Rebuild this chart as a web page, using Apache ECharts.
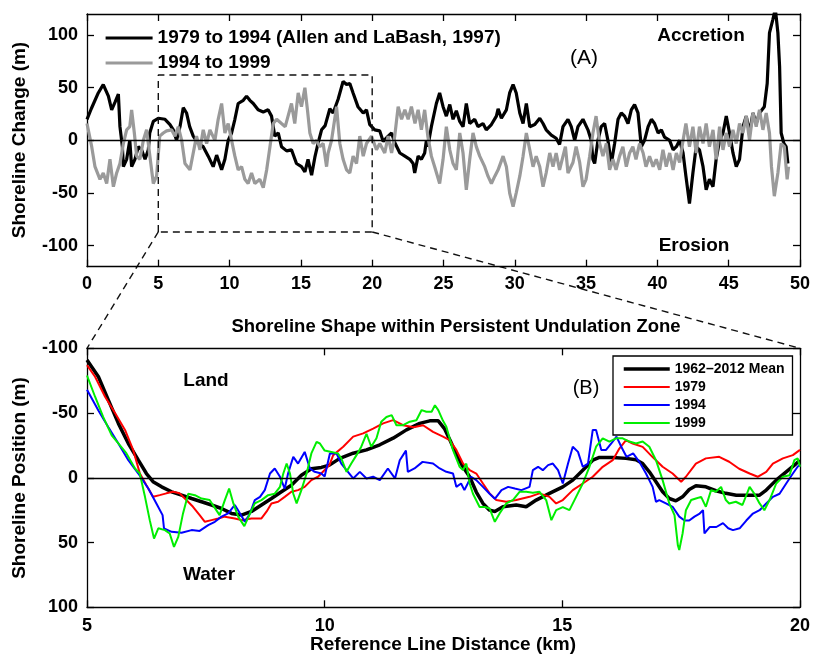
<!DOCTYPE html>
<html>
<head>
<meta charset="utf-8">
<script src="https://cdn.jsdelivr.net/npm/echarts@6/dist/echarts.min.js"></script>
<style>
html,body{margin:0;padding:0;background:#fff}
#chart{width:813px;height:656px}
</style>
</head>
<body>
<div id="chart"></div>
<script>
// ---- (A) shoreline change along the coast, [km, m] ----
const change7994 = [[0,20],[0.3,30],[0.79,45],[1.14,53],[1.5,42],[1.73,29],[1.96,36],[2.2,44],[2.31,13],[2.48,-6],[2.55,-25],[2.78,-18],[3.0,0],[3.13,-25],[3.36,-18],[3.6,-6],[3.83,-9],[4.07,-18],[4.3,-9],[4.4,7],[4.65,18],[5.0,21],[5.47,20],[5.82,15],[6.05,10],[6.28,0],[6.52,13],[6.75,31],[6.98,26],[7.2,13],[7.45,4],[7.8,-3],[8.15,-6],[8.5,-15],[8.85,-25],[9.09,-14],[9.44,-28],[9.67,-18],[9.9,0],[10.14,7],[10.37,20],[10.6,35],[10.96,38],[11.19,42],[11.42,38],[11.66,35],[12.0,29],[12.36,27],[12.7,29],[12.94,23],[13.17,4],[13.41,7],[13.64,-6],[14.0,-10],[14.34,-9],[14.69,-22],[15.04,-25],[15.28,-30],[15.5,-18],[15.75,-33],[15.98,-16],[16.2,-3],[16.45,10],[16.7,14],[17.03,30],[17.26,26],[17.61,39],[17.96,56],[18.2,53],[18.43,54],[18.66,45],[19.0,32],[19.37,26],[19.6,29],[19.83,15],[20.18,10],[20.53,9],[20.77,-1],[21.12,4],[21.36,7],[21.58,-2],[21.94,-12],[22.29,-15],[22.64,-18],[22.87,-22],[22.98,-31],[23.22,-15],[23.45,-18],[23.68,-12],[23.8,0],[23.9,-6],[24.15,13],[24.5,35],[24.73,45],[24.97,32],[25.2,23],[25.44,34],[25.67,20],[25.9,28],[26.14,18],[26.37,13],[26.6,35],[26.84,16],[27.19,20],[27.42,13],[27.77,16],[28.0,10],[28.36,15],[28.71,23],[28.83,30],[29.06,21],[29.41,29],[29.64,45],[29.88,53],[30.1,45],[30.35,26],[30.58,16],[30.81,35],[31.05,13],[31.4,15],[31.75,21],[31.98,16],[32.2,10],[32.56,5],[32.9,2],[33.14,-4],[33.38,13],[33.73,20],[33.96,13],[34.2,0],[34.43,13],[34.78,20],[35.13,10],[35.36,0],[35.48,-18],[35.6,-22],[35.83,0],[36.06,13],[36.3,16],[36.53,0],[36.77,-22],[37.0,-3],[37.24,20],[37.47,26],[37.7,23],[37.94,16],[38.17,29],[38.4,34],[38.64,26],[38.87,-6],[39.1,0],[39.35,13],[39.58,20],[39.8,16],[40.05,7],[40.28,10],[40.5,3],[40.86,0],[41.1,-9],[41.33,-6],[41.56,0],[41.8,-12],[42.0,-34],[42.25,-60],[42.49,-31],[42.72,-6],[42.95,-9],[43.2,-25],[43.42,-47],[43.65,-37],[43.9,-44],[44.12,-18],[44.36,0],[44.6,7],[44.83,23],[45.06,7],[45.3,-12],[45.53,-25],[45.76,-18],[46.0,13],[46.23,23],[46.46,7],[46.7,26],[46.93,16],[47.16,26],[47.5,32],[47.7,54],[47.86,102],[48.1,115],[48.27,125],[48.45,102],[48.57,70],[48.68,7],[48.87,-3],[49.03,-6],[49.15,-22]];

const change9499 = [[0,16],[0.33,-6],[0.56,-25],[0.91,-37],[1.14,-31],[1.38,-41],[1.61,-18],[1.85,-44],[2.08,-31],[2.31,-22],[2.55,-3],[2.78,10],[3.0,13],[3.13,29],[3.32,7],[3.48,-15],[3.71,-18],[3.95,0],[4.18,10],[4.41,-15],[4.65,-41],[4.88,-34],[5.1,4],[5.35,7],[5.58,9],[5.93,10],[6.17,4],[6.4,13],[6.64,0],[6.87,-22],[7.22,-28],[7.45,-12],[7.68,4],[7.92,-9],[8.15,10],[8.39,-3],[8.62,10],[8.97,0],[9.2,20],[9.44,35],[9.67,7],[9.9,16],[10.14,0],[10.37,-15],[10.6,-28],[10.84,-25],[11.07,-37],[11.3,-41],[11.54,-31],[11.77,-41],[12.12,-37],[12.36,-45],[12.6,-28],[12.83,-6],[13.06,16],[13.3,20],[13.64,16],[13.9,13],[14.1,23],[14.34,35],[14.57,16],[14.81,45],[15.04,32],[15.28,50],[15.46,29],[15.63,7],[15.86,-3],[16.1,0],[16.33,-6],[16.56,-3],[16.8,-25],[16.91,-12],[17.15,0],[17.5,32],[17.73,-3],[17.96,-18],[18.2,-28],[18.43,-31],[18.66,-15],[18.9,-22],[19.13,4],[19.37,-15],[19.6,-3],[19.95,4],[20.3,-9],[20.53,-3],[20.88,-12],[21.12,4],[21.36,-12],[21.58,4],[21.82,32],[22.06,20],[22.29,29],[22.52,20],[22.75,32],[23.0,16],[23.22,29],[23.45,10],[23.68,29],[23.9,4],[24.15,-15],[24.38,-25],[24.73,-41],[24.97,-18],[25.2,13],[25.44,-9],[25.67,-22],[25.9,-28],[26.14,7],[26.37,-12],[26.6,-47],[26.84,-18],[27.07,7],[27.3,-6],[27.54,-15],[27.89,-25],[28.12,-34],[28.36,-41],[28.6,-34],[28.83,-28],[29.18,-15],[29.41,-25],[29.64,-50],[29.88,-63],[30.1,-50],[30.35,-34],[30.58,-15],[30.81,7],[31.05,-9],[31.28,-25],[31.5,-15],[31.75,-25],[31.98,-44],[32.2,-31],[32.45,-12],[32.68,-25],[32.9,-12],[33.14,-28],[33.38,-15],[33.55,-6],[33.73,-31],[34.08,-21],[34.3,-6],[34.55,-21],[34.78,-44],[35.0,-37],[35.25,-15],[35.48,7],[35.7,23],[35.95,-3],[36.18,-15],[36.42,-3],[36.65,-28],[36.88,-18],[37.1,-28],[37.35,-15],[37.58,-6],[37.82,-25],[38.05,-12],[38.28,-6],[38.5,-18],[38.75,-3],[39.0,-12],[39.2,-25],[39.45,-15],[39.7,-25],[39.92,-18],[40.16,-28],[40.39,-9],[40.62,-25],[40.86,-12],[41.1,-28],[41.33,-12],[41.56,-21],[41.8,0],[42.0,16],[42.25,-6],[42.49,13],[42.72,-12],[42.95,13],[43.2,-3],[43.42,16],[43.65,-6],[43.9,10],[44.12,-18],[44.36,13],[44.6,-9],[44.83,7],[45.06,-6],[45.3,10],[45.53,-3],[45.76,16],[46.0,7],[46.23,23],[46.46,0],[46.7,26],[46.93,13],[47.16,29],[47.4,10],[47.63,26],[47.86,7],[48.0,-25],[48.2,-53],[48.45,-31],[48.68,-3],[48.9,-6],[49.1,-37],[49.2,-25]];

// Zoom window marked on panel A (km, m)
const boxX = [5, 5, 20, 20, 5];
const boxY = [-87, 62, 62, -87, -87];

// ---- (B) shoreline position within the undulation zone, [km, m] ----
const posMean = [[5.0,-91],[5.24,-78],[5.45,-60],[5.66,-42],[5.87,-26.5],[6.08,-13.6],[6.25,-3.3],[6.39,3],[6.57,7],[6.78,10.8],[6.99,13.4],[7.2,16],[7.41,18.5],[7.62,21],[7.83,23.7],[8.04,27.5],[8.25,28.8],[8.46,26],[8.67,21],[8.88,16],[9.09,10.8],[9.3,5.7],[9.51,-2],[9.72,-7],[9.93,-8],[10.1,-9.8],[10.32,-15],[10.6,-19],[10.88,-21.6],[11.16,-25.5],[11.44,-30.6],[11.72,-37],[12.0,-42],[12.21,-44],[12.39,-44],[12.52,-38],[12.65,-28],[12.77,-18],[12.91,-8.5],[13.05,-0.8],[13.19,11],[13.33,19.8],[13.47,25],[13.58,26],[13.75,22.4],[14.03,21],[14.24,22.4],[14.45,17.2],[14.73,12],[15.01,7],[15.22,1.8],[15.43,-5.9],[15.64,-13.6],[15.78,-15.7],[16.06,-15.7],[16.34,-15],[16.55,-14],[16.69,-11],[16.83,-4.6],[16.97,3],[17.11,10.8],[17.25,16],[17.39,17.8],[17.53,14.7],[17.67,9],[17.81,6.2],[18.02,7],[18.23,10],[18.44,12],[18.66,13.4],[18.94,13.4],[19.15,13.4],[19.29,9.5],[19.5,1.8],[19.71,-4.6],[19.92,-11],[20.0,-13.6]];

const pos1979 = [[5.0,-87],[5.17,-78],[5.38,-62.6],[5.59,-50],[5.8,-37],[5.97,-21.6],[6.11,-3.6],[6.25,5.7],[6.39,14.7],[6.53,13.4],[6.67,12],[6.81,10.8],[6.95,12],[7.09,17.2],[7.23,22.4],[7.37,28.8],[7.48,34],[7.62,32.7],[7.76,31.4],[7.9,30],[8.11,31.4],[8.25,32.7],[8.46,31.4],[8.67,31.4],[8.78,26],[8.88,19.8],[9.02,18.5],[9.16,14.7],[9.3,10.8],[9.44,9.5],[9.58,7],[9.72,1.8],[9.86,-0.8],[10.0,-6],[10.1,-9.8],[10.18,-17.5],[10.39,-24],[10.6,-31.8],[10.81,-34.3],[11.02,-38],[11.23,-42],[11.44,-44.5],[11.65,-40.6],[11.87,-39],[12.07,-40.6],[12.28,-35.5],[12.49,-31.8],[12.63,-29],[12.77,-21.6],[12.91,-11],[13.05,-6],[13.19,-3.3],[13.33,4.4],[13.47,12],[13.61,17.2],[13.82,18.5],[14.03,17.2],[14.31,14.7],[14.52,12],[14.73,14.7],[14.87,19.8],[15.01,17.2],[15.22,9.5],[15.43,4.4],[15.64,-0.8],[15.85,-8.5],[16.06,-13.6],[16.2,-22.6],[16.34,-29],[16.48,-26.5],[16.69,-23.9],[16.9,-16],[17.11,-8.5],[17.32,-3.3],[17.5,3],[17.6,-0.8],[17.81,-11],[18.02,-15],[18.3,-16.2],[18.51,-12.4],[18.72,-7],[18.94,-3.3],[19.11,-0.8],[19.29,-4.6],[19.43,-11],[19.64,-15],[19.85,-17.5],[20.0,-21.6]];

const pos1994 = [[5.0,-68],[5.24,-52],[5.45,-39],[5.66,-26.5],[5.87,-13.6],[6.08,-3.3],[6.29,8.3],[6.46,19.8],[6.59,28.8],[6.62,39],[6.78,41.7],[6.99,42.5],[7.2,40.4],[7.37,41],[7.55,36.6],[7.69,34],[7.83,30],[7.97,27.5],[8.11,21],[8.22,27.5],[8.32,34],[8.43,27.5],[8.53,17.2],[8.64,14.7],[8.74,9.5],[8.85,-3.3],[8.95,-7.2],[9.06,-0.8],[9.16,8.3],[9.23,-3.3],[9.34,-16.2],[9.44,-11],[9.58,-20],[9.69,-7.2],[9.79,-4.6],[9.93,-3.3],[10.0,-1],[10.11,-18.8],[10.25,-18.8],[10.35,-11],[10.46,-5.9],[10.6,0.5],[10.74,-4.6],[10.88,0.5],[11.02,-0.8],[11.16,1.8],[11.33,-7.2],[11.48,0.5],[11.58,-13.6],[11.71,-21],[11.75,-4.6],[11.89,-7.2],[12.06,-12.3],[12.28,-11],[12.42,-7.2],[12.56,-4.6],[12.7,-3.3],[12.77,7],[12.87,4.4],[12.94,9.5],[13.01,4.4],[13.08,-0.8],[13.19,1.8],[13.33,7],[13.47,12.3],[13.58,16.2],[13.72,9.5],[13.86,7],[14.0,8.3],[14.14,9.5],[14.31,7],[14.38,-5.9],[14.49,-8.5],[14.59,-5.9],[14.7,-9.8],[14.8,-11],[14.91,-5.9],[15.01,4.4],[15.12,-11],[15.22,-24],[15.33,-20],[15.43,-8.5],[15.54,-11],[15.64,-37],[15.71,-37],[15.82,-21.5],[15.92,-21.5],[16.03,-26.5],[16.14,-31.8],[16.24,-24],[16.35,-16.2],[16.49,-18.8],[16.62,-12.3],[16.76,-3.3],[16.9,7],[16.97,18.5],[17.04,17.2],[17.18,19.8],[17.32,22.4],[17.46,30],[17.57,33],[17.67,33],[17.78,30],[17.89,27.6],[17.96,25],[17.99,43],[18.1,38],[18.24,38],[18.38,35],[18.49,39],[18.59,40.4],[18.73,39],[18.87,33],[19.01,27.6],[19.15,25],[19.29,19.8],[19.43,14.7],[19.57,12.3],[19.71,4.4],[19.85,-3.3],[19.95,-8.5],[20.0,-10]];

const pos1999 = [[5.0,-79],[5.17,-62.6],[5.34,-47],[5.52,-32.8],[5.66,-26.5],[5.83,-18.8],[6.01,-7.2],[6.11,-3.3],[6.22,14.7],[6.32,32.7],[6.41,46.9],[6.5,39],[6.64,40.4],[6.74,43],[6.83,53.3],[6.92,45.6],[7.02,27.5],[7.13,12.3],[7.27,13.4],[7.41,16],[7.58,17.2],[7.72,25],[7.79,28.8],[7.9,17.2],[7.99,8.3],[8.08,19.8],[8.18,30],[8.31,37.3],[8.43,27.5],[8.53,19.8],[8.67,17.2],[8.81,13.4],[8.95,12.3],[9.06,7],[9.13,-3.3],[9.2,-11],[9.27,-3.3],[9.34,12.3],[9.41,19.8],[9.51,9.5],[9.62,-3.3],[9.72,-18.8],[9.83,-27.7],[9.9,-26.5],[10.0,-21],[10.14,-20],[10.28,-18.8],[10.35,-15],[10.46,-4.6],[10.56,-11],[10.67,-17.5],[10.77,-24],[10.88,-34],[10.98,-24],[11.09,-30.5],[11.19,-43.3],[11.3,-47],[11.41,-48.4],[11.51,-40.6],[11.65,-40.6],[11.79,-43.3],[11.93,-44.5],[12.04,-52.3],[12.14,-51],[12.25,-51],[12.32,-56],[12.39,-52.3],[12.49,-44],[12.56,-39.4],[12.7,-21.3],[12.84,-8.5],[12.91,-5.9],[12.98,-11],[13.05,4.4],[13.12,12.3],[13.26,22.6],[13.37,22.6],[13.47,23.7],[13.58,34],[13.68,27.5],[13.82,19.8],[13.96,17.2],[14.1,10.8],[14.24,10.8],[14.38,11.5],[14.52,10.8],[14.66,17.2],[14.77,32.7],[14.87,25],[15.01,22.6],[15.15,25],[15.29,14.7],[15.43,4.4],[15.57,-8.5],[15.71,-24],[15.85,-30.5],[15.99,-28],[16.13,-30.5],[16.27,-30.5],[16.41,-28],[16.55,-26.5],[16.69,-28],[16.83,-24],[16.97,-13.6],[17.11,1.8],[17.25,19.8],[17.36,28.8],[17.43,52],[17.46,55.8],[17.53,43],[17.6,25],[17.71,17.2],[17.81,16],[17.92,14.7],[18.02,22.4],[18.13,9.5],[18.23,10.8],[18.34,7],[18.44,17.2],[18.51,19.8],[18.65,18.5],[18.79,21],[18.94,7],[19.04,12.3],[19.15,19.8],[19.25,25],[19.36,17.2],[19.5,4.4],[19.64,-0.8],[19.78,-2],[19.88,-13.6],[19.95,-15],[20.0,-8.5]];

// Tick values
const changeTicks = [-100, -50, 0, 50, 100];

const FONT = '"Liberation Sans", Arial, Helvetica, sans-serif';
const chart = echarts.init(document.getElementById('chart'), null, {renderer: 'canvas'});

const tickStyle = {color: '#000', width: 1.3};
function valueAxis(extra) {
  return Object.assign({
    type: 'value',
    axisLine: {show: true, onZero: false, lineStyle: {color: '#000', width: 1.3}},
    axisTick: {show: true, inside: true, length: 7, lineStyle: tickStyle},
    axisLabel: {show: false},
    splitLine: {show: false}
  }, extra);
}
const labelStyle = {show: true, color: '#000', fontFamily: FONT, fontWeight: 'bold', fontSize: 18};

const option = {
  animation: false,
  backgroundColor: '#fff',
  grid: [
    {left: 87, top: 14, width: 713.5, height: 252.7},
    {left: 87, top: 348.3, width: 713.5, height: 259}
  ],
  xAxis: [
    valueAxis({gridIndex: 0, position: 'bottom', min: 0, max: 50, interval: 5,
      axisLabel: Object.assign({}, labelStyle, {margin: 8})}),
    valueAxis({gridIndex: 0, position: 'top', min: 0, max: 50, interval: 5}),
    valueAxis({gridIndex: 1, position: 'bottom', min: 5, max: 20, interval: 5,
      axisLabel: Object.assign({}, labelStyle, {margin: 10})}),
    valueAxis({gridIndex: 1, position: 'top', min: 5, max: 20, interval: 5})
  ],
  yAxis: [
    valueAxis({gridIndex: 0, position: 'left', min: -120, max: 120,
      axisLabel: Object.assign({}, labelStyle, {margin: 9, customValues: changeTicks}),
      axisTick: {show: true, inside: true, length: 7, customValues: changeTicks, lineStyle: tickStyle}}),
    valueAxis({gridIndex: 0, position: 'right', min: -120, max: 120,
      axisTick: {show: true, inside: true, length: 7, customValues: changeTicks, lineStyle: tickStyle}}),
    valueAxis({gridIndex: 1, position: 'left', min: -100, max: 100, interval: 50, inverse: true,
      axisLabel: Object.assign({}, labelStyle, {margin: 9})}),
    valueAxis({gridIndex: 1, position: 'right', min: -100, max: 100, interval: 50, inverse: true})
  ],
  legend: [
    {
      data: ['1979 to 1994 (Allen and LaBash, 1997)', '1994 to 1999'],
      orient: 'vertical', left: 104, top: 28.5, padding: 0,
      itemWidth: 47, itemHeight: 2, itemGap: 6,
      lineStyle: {width: 'inherit'}, itemStyle: {opacity: 0},
      textStyle: {color: '#000', fontFamily: FONT, fontWeight: 'bold', fontSize: 19, lineHeight: 19}
    },
    {
      data: ['1962\u20132012 Mean', '1979', '1994', '1999'],
      orient: 'vertical', left: 613, top: 356, padding: [6, 8, 5, 9],
      backgroundColor: '#fff', borderColor: '#000', borderWidth: 1.3,
      itemWidth: 46, itemHeight: 2, itemGap: 4,
      lineStyle: {width: 'inherit'}, itemStyle: {opacity: 0},
      textStyle: {color: '#000', fontFamily: FONT, fontWeight: 'bold', fontSize: 14, lineHeight: 14}
    }
  ],
  series: [
    {
      name: '1979 to 1994 (Allen and LaBash, 1997)', type: 'line',
      xAxisIndex: 0, yAxisIndex: 0, data: change7994,
      symbol: 'none', lineStyle: {color: '#000', width: 3.2}, itemStyle: {color: '#000'},
      markLine: {silent: true, symbol: ['none', 'none'], label: {show: false},
        lineStyle: {color: '#000', width: 1.3, type: 'solid'}, data: [{yAxis: 0}]}
    },
    {
      name: '1994 to 1999', type: 'line',
      xAxisIndex: 0, yAxisIndex: 0, data: change9499,
      symbol: 'none', lineStyle: {color: '#9a9a9a', width: 3.2}, itemStyle: {color: '#9a9a9a'}
    },
    {
      name: 'zoomBox', type: 'line', xAxisIndex: 0, yAxisIndex: 0,
      data: boxX.map((x, i) => [x, boxY[i]]), symbol: 'none', silent: true,
      lineStyle: {color: '#111', width: 1.4, type: [7, 5]}
    },
    {
      name: '1962\u20132012 Mean', type: 'line',
      xAxisIndex: 2, yAxisIndex: 2, data: posMean,
      symbol: 'none', lineStyle: {color: '#000', width: 3.5}, itemStyle: {color: '#000'},
      markLine: {silent: true, symbol: ['none', 'none'], label: {show: false},
        lineStyle: {color: '#000', width: 1.3, type: 'solid'}, data: [{yAxis: 0}]}
    },
    {
      name: '1979', type: 'line', xAxisIndex: 2, yAxisIndex: 2, data: pos1979,
      symbol: 'none', lineStyle: {color: '#ff0000', width: 2}, itemStyle: {color: '#ff0000'}
    },
    {
      name: '1994', type: 'line', xAxisIndex: 2, yAxisIndex: 2, data: pos1994,
      symbol: 'none', lineStyle: {color: '#0000ff', width: 2}, itemStyle: {color: '#0000ff'}
    },
    {
      name: '1999', type: 'line', xAxisIndex: 2, yAxisIndex: 2, data: pos1999,
      symbol: 'none', lineStyle: {color: '#00ee00', width: 2}, itemStyle: {color: '#00ee00'}
    }
  ]
};
chart.setOption(option);

// Dashed connectors from the zoom window to panel B, plus panel annotations
const topLeft = chart.convertToPixel({xAxisIndex: 0, yAxisIndex: 0}, [boxX[0], boxY[0]]);
const topRight = chart.convertToPixel({xAxisIndex: 0, yAxisIndex: 0}, [boxX[3], boxY[3]]);
const botLeft = chart.convertToPixel({xAxisIndex: 2, yAxisIndex: 2}, [5, -100]);
const botRight = chart.convertToPixel({xAxisIndex: 2, yAxisIndex: 2}, [20, -100]);

const dash = {stroke: '#111', lineWidth: 1.4, lineDash: [7, 5]};
function txt(x, y, s, size, weight, rot) {
  return {type: 'text', x: x, y: y, rotation: rot || 0, z: 10,
    style: {text: s, fill: '#000', font: weight + ' ' + size + 'px ' + FONT, align: 'center', verticalAlign: 'middle'}};
}
chart.setOption({
  graphic: [
    {type: 'line', shape: {x1: topLeft[0], y1: topLeft[1], x2: botLeft[0], y2: botLeft[1]}, style: dash, silent: true},
    {type: 'line', shape: {x1: topRight[0], y1: topRight[1], x2: botRight[0], y2: botRight[1]}, style: dash, silent: true},
    txt(701, 36, 'Accretion', 19, 'bold'),
    txt(584, 58, '(A)', 21, 'normal'),
    txt(694, 246, 'Erosion', 19, 'bold'),
    txt(206, 381, 'Land', 19, 'bold'),
    txt(209, 575, 'Water', 19, 'bold'),
    txt(586, 388, '(B)', 20, 'normal'),
    txt(456, 327, 'Shoreline Shape within Persistent Undulation Zone', 18.5, 'bold'),
    txt(443, 645, 'Reference Line Distance (km)', 19, 'bold'),
    txt(20, 140, 'Shoreline Change (m)', 19, 'bold', Math.PI / 2),
    txt(20, 478, 'Shoreline Position (m)', 19, 'bold', Math.PI / 2)
  ]
});
</script>
</body>
</html>
